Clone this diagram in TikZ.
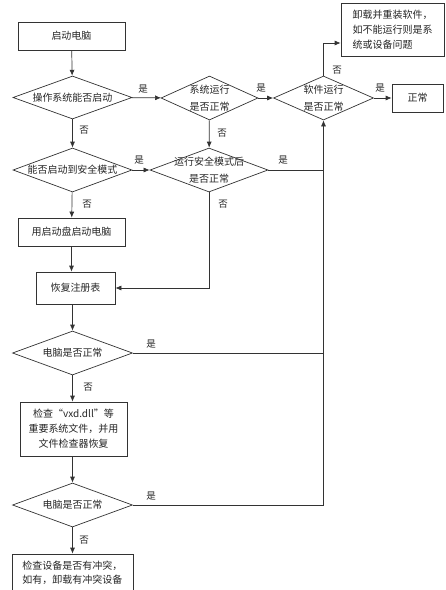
\documentclass[tikz,border=0pt]{standalone}
\usepackage{fontspec}
\newfontfamily\cjk{Noto Sans CJK SC}
\usetikzlibrary{shapes.geometric,arrows.meta}
\tikzset{
  every node/.style={font=\cjk\fontsize{10}{15}\selectfont, text=black!85},
  box/.style={draw=black!80, line width=0.7pt, rectangle, inner sep=0pt, align=center},
  dia/.style={draw=black!80, line width=0.7pt, diamond, inner sep=0pt},
  conn/.style={draw=black!80, line width=0.7pt},
  arr/.style={conn, -{Latex[length=6pt,width=5pt]}},
  lbl/.style={inner sep=0pt, font=\cjk\fontsize{9.5}{11}\selectfont}
}
\begin{document}
\begin{tikzpicture}[x=1pt,y=-1pt]
\useasboundingbox (0,0) rectangle (446,590);
\clip (0,0) rectangle (446,590);
\fill[white] (0,0) rectangle (446,590);
% boxes
\node[box, minimum width=107pt, minimum height=28pt] (b1) at (71.5,36) {启动电脑};
\node[box, minimum width=51pt, minimum height=28pt] (ok) at (417.5,98) {正常};
\node[box, minimum width=103pt, minimum height=53pt, align=left] (top) at (392.5,29.5) {卸载并重装软件，\\如不能运行则是系\\统或设备问题};
\node[box, minimum width=107pt, minimum height=28pt] (b2) at (71.5,232) {用启动盘启动电脑};
\node[box, minimum width=79pt, minimum height=32pt] (b3) at (75.5,288) {恢复注册表};
\node[box, minimum width=107pt, minimum height=54pt] (b4) at (73.5,429) {检查“vxd.dll”等\\重要系统文件，并用\\文件检查器恢复};
\node[box, minimum width=121pt, minimum height=38pt, font=\cjk\fontsize{10}{14}\selectfont] (b5) at (72.5,573) {检查设备是否有冲突，\\如有，卸载有冲突设备};
% diamonds
\node[dia, minimum width=119pt, minimum height=43pt, label={center:操作系统能否启动}] (d1) at (72.5,97.5) {};
\node[dia, minimum width=97pt, minimum height=44pt, label={[align=center, font=\cjk\fontsize{10}{17}\selectfont]center:系统运行\\是否正常}] (d2) at (209.5,98) {};
\node[dia, minimum width=100pt, minimum height=44pt, label={[align=center, font=\cjk\fontsize{10}{17}\selectfont]center:软件运行\\是否正常}] (d3) at (323.5,98) {};
\node[dia, minimum width=119pt, minimum height=44pt, label={center:能否启动到安全模式}] (d4) at (72.5,170) {};
\node[dia, minimum width=118pt, minimum height=44pt, label={[align=center, font=\cjk\fontsize{10}{17}\selectfont]center:运行安全模式后\\是否正常}] (d5) at (209,170) {};
\node[dia, minimum width=120pt, minimum height=44pt, label={center:电脑是否正常}] (d6) at (72.5,353) {};
\node[dia, minimum width=120pt, minimum height=44pt, label={center:电脑是否正常}] (d7) at (72.5,505) {};
% connectors
\draw[arr] (b1) -- (d1);
\draw[arr] (d1) -- (d2);
\draw[arr] (d2) -- (d3);
\draw[arr] (d3) -- (ok);
\draw[arr] (d3.north) |- (top.west |- 0,43);
\draw[arr] (d1) -- (d4);
\draw[arr] (d2) -- (d5);
\draw[arr] (d4) -- (d5);
\draw[arr] (d4) -- (b2);
\draw[arr] (b2) -- (b2 |- b3.north);
\draw[arr] (d5.south) |- (b3.east);
\draw[arr] (b3.south -| d6.north) -- (d6);
\draw[arr] (d6) -- (b4.north -| d6.north);
\draw[arr] (b4.south -| d7.north) -- (d7);
\draw[arr] (d7) -- (b5);
\draw[conn] (d5.east) -- (d5.east -| d3.south);
\draw[conn] (d6.east) -- (d6.east -| d3.south);
\draw[arr] (d7.east) -| (d3.south);
% labels
\node[lbl] (l1) at (143,89) {是};
\node[lbl] (l2) at (261,88) {是};
\node[lbl] (l3) at (380,88) {是};
\node[lbl] (l4) at (337,70) {否};
\node[lbl] (l5) at (84,130) {否};
\node[lbl] (l6) at (222,133) {否};
\node[lbl] (l7) at (139,160) {是};
\node[lbl] (l8) at (283,160) {是};
\node[lbl] (l9) at (87,204) {否};
\node[lbl] (l10) at (223,204) {否};
\node[lbl] (l11) at (151,344) {是};
\node[lbl] (l12) at (88,387) {否};
\node[lbl] (l13) at (151,496) {是};
\node[lbl] (l14) at (84,540) {否};
\end{tikzpicture}
\end{document}
